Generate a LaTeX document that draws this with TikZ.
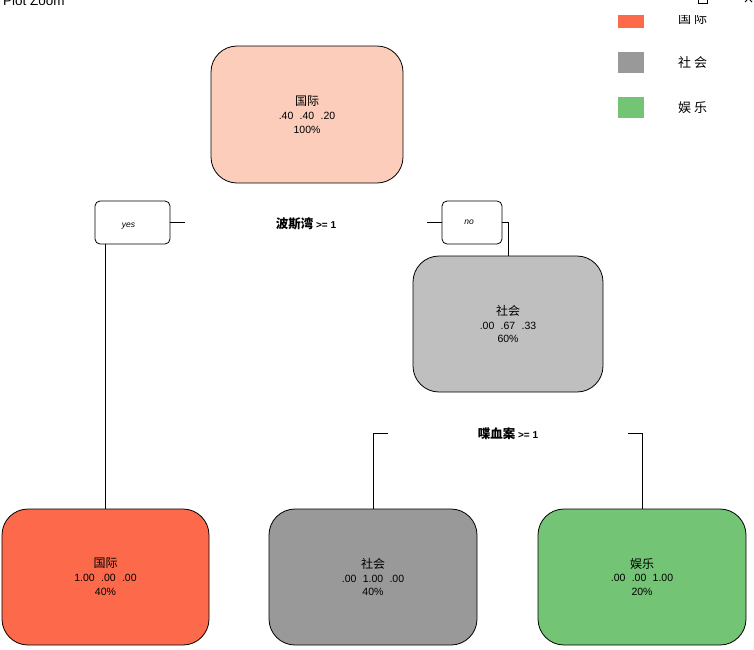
\documentclass[tikz,border=0pt]{standalone}
\usepackage{fontspec}
\setmainfont{Liberation Sans}
\newfontfamily\cjk{Noto Sans CJK SC}
\definecolor{rootc}{HTML}{FCCDBA}
\definecolor{socc}{HTML}{BFBFBF}
\definecolor{intc}{HTML}{FC6A4B}
\definecolor{midc}{HTML}{999999}
\definecolor{entc}{HTML}{74C476}
\tikzset{
  bigbox/.style={draw=black, line width=0.8pt, rounded corners=26pt, align=center, inner sep=0pt,
    font=\fontsize{10.5}{13.8}\selectfont},
  smallbox/.style={draw=black, line width=0.8pt, rounded corners=5pt, fill=white, inner sep=0pt},
  boxlabel/.style={font=\fontsize{8.5}{9}\selectfont\itshape, inner sep=0pt},
  split/.style={font=\bfseries\fontsize{10}{12}\selectfont, inner sep=1pt},
  conn/.style={draw=black, line width=0.8pt},
  legsq/.style={draw=none, minimum width=26pt, minimum height=21pt, inner sep=0pt},
  legtx/.style={font=\cjk\fontsize{13}{15}\selectfont, anchor=west, inner sep=0pt}
}
\newcommand{\zh}[1]{{\cjk\fontsize{12}{13.8}\selectfont #1}}
\newcommand{\gap}{\hspace{0.6em}}
\begin{document}
\begin{tikzpicture}[x=1pt,y=-1pt]
\useasboundingbox (0,0) rectangle (754,649);
\begin{scope}
\clip (0,0) rectangle (754,649);
% legend
\node[legsq, fill=intc] (lg1) at (631,17.5) {};
\node[legsq, fill=midc] (lg2) at (631,62.5) {};
\node[legsq, fill=entc] (lg3) at (631,107.5) {};
\node[legtx] (lt1) at (678,18.5) {国\hspace{3pt}际};
\node[legtx] (lt2) at (678,62.5) {社\hspace{3pt}会};
\node[legtx] (lt3) at (678,107.5) {娱\hspace{3pt}乐};
% cover of the title bar
\fill[white] (0,-5) rectangle (754,14.5);
\node[anchor=base west, inner sep=0pt, font=\fontsize{13.5}{15}\selectfont] (title) at (3,5.5) {Plot Zoom};
\draw[line width=0.8pt] (698,-6) rectangle (707,3);
\draw[line width=0.8pt] (745,-5) -- (752,2) (752,-5) -- (745,2);
\end{scope}
% nodes
\node[bigbox, fill=rootc, minimum width=192pt, minimum height=137pt] (root) at (307,114.5)
  {\zh{国际}\\.40\gap.40\gap.20\\100\%};
\node[smallbox, minimum width=75pt, minimum height=43pt] (yes) at (132.5,222.5) {};
\node[boxlabel] (yest) at (128.5,226) {yes};
\node[smallbox, minimum width=60pt, minimum height=43pt] (no) at (472,222.5) {};
\node[boxlabel] (not) at (469,222.5) {no};
\node[split] (s1) at (306,224) {{\cjk\fontsize{12.5}{14}\selectfont 波斯湾} >= 1};
\node[bigbox, fill=socc, minimum width=190pt, minimum height=136pt] (soc) at (508,324)
  {\zh{社会}\\.00\gap.67\gap.33\\60\%};
\node[split] (s2) at (508,434) {{\cjk\fontsize{12.5}{14}\selectfont 喋血案} >= 1};
\node[bigbox, fill=intc, minimum width=207pt, minimum height=136pt] (L) at (105.5,577)
  {\zh{国际}\\1.00\gap.00\gap.00\\40\%};
\node[bigbox, fill=midc, minimum width=208pt, minimum height=136pt] (M) at (373,577)
  {\zh{社会}\\.00\gap1.00\gap.00\\40\%};
\node[bigbox, fill=entc, minimum width=208pt, minimum height=136pt] (R) at (642,577)
  {\zh{娱乐}\\.00\gap.00\gap1.00\\20\%};
% connectors
\coordinate (ya) at (185,222);
\coordinate (na) at (427,222);
\coordinate (bl) at (388,433);
\coordinate (br) at (628,433);
\draw[conn] (yes.east |- ya) -- (ya);
\draw[conn] (yes.south -| L.north) -- (L.north);
\draw[conn] (na) -- (no.west |- na);
\draw[conn] (no.east |- na) -- (soc.north |- na) -- (soc.north);
\draw[conn] (bl) -- (M.north |- bl) -- (M.north);
\draw[conn] (br) -- (R.north |- br) -- (R.north);
\end{tikzpicture}
\end{document}
